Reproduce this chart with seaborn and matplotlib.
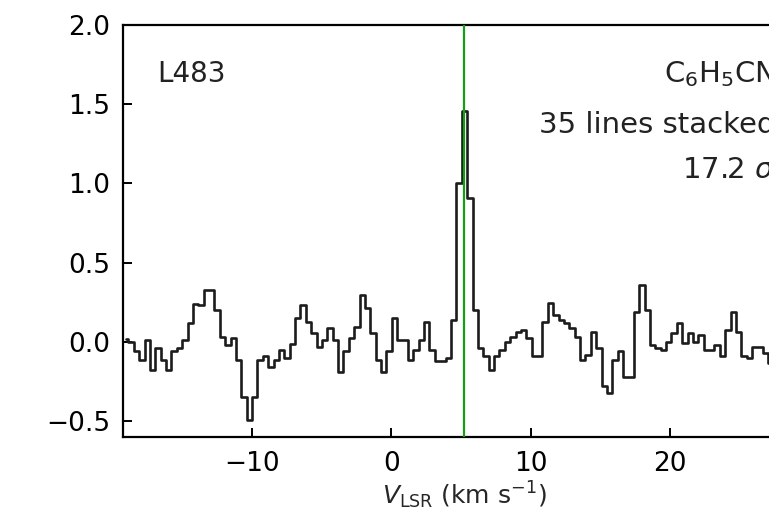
import numpy as np
import pandas as pd
import matplotlib
matplotlib.use("Agg")
import matplotlib.pyplot as plt
import seaborn as sns

# ---- data -------------------------------------------------------------
channel_width = 0.386      # km/s
first_channel = -19.07     # km/s, centre of first channel
intensity = [
    0.02, 0.0, -0.06, -0.115, 0.013, -0.18, -0.04, -0.115, -0.18, -0.06,
    -0.04, 0.013, 0.12, 0.24, 0.235, 0.33, 0.33, 0.2, 0.034, -0.02,
    0.023, -0.115, -0.345, -0.49, -0.345, -0.115, -0.09, -0.156, -0.115, -0.05,
    -0.1, -0.01, 0.15, 0.233, 0.128, 0.054, -0.03, 0.013, 0.086, 0.013,
    -0.187, -0.06, 0.023, 0.097, 0.296, 0.212, 0.054, -0.115, -0.187, -0.06,
    0.15, 0.013, 0.013, -0.115, -0.05, 0.013, 0.128, -0.05, -0.12, -0.12,
    -0.1, 0.139, 1.0, 1.46, 0.91, 0.2, -0.04, -0.09, -0.177, -0.09,
    -0.05, 0.002, 0.034, 0.065, 0.076, 0.023, -0.09, -0.09, 0.128, 0.244,
    0.17, 0.139, 0.118, 0.086, 0.034, -0.114, -0.082, 0.065, -0.04, -0.28,
    -0.32, -0.114, -0.06, -0.22, -0.22, 0.19, 0.36, 0.2, -0.02, -0.04,
    -0.05, 0.002, 0.055, 0.118, -0.009, 0.055, 0.002, 0.044, -0.05, -0.05,
    -0.02, -0.09, 0.076, 0.19, 0.065, -0.09, -0.1, -0.03, -0.03, -0.07,
    -0.13, -0.08, 0.02, -0.04, 0.05, -0.02, 0.01, -0.05,
]
v_lsr_source = 5.2
x_ticks = [-10, 0, 10, 20]
y_ticks = [-0.5, 0.0, 0.5, 1.0, 1.5, 2.0]
source_label = "L483"
annotation_lines = ["C$_6$H$_5$CN", "35 lines stacked", "17.2 $\\sigma$"]

velocity = first_channel + channel_width * np.arange(len(intensity))
df = pd.DataFrame({"v": velocity, "T": intensity})

# ---- plot -------------------------------------------------------------
sns.set_style("ticks")
plt.rcParams["font.family"] = ["DejaVu Sans"]
plt.rcParams["mathtext.fontset"] = "dejavusans"

fig = plt.figure(figsize=(7.69, 5.17), dpi=100)
ax = fig.add_axes([0.16, 0.1547, 0.8887, 0.797])

sns.lineplot(data=df, x="v", y="T", ax=ax, drawstyle="steps-mid",
             color="#1c1c1c", lw=1.9, estimator=None, sort=False)
ax.axvline(v_lsr_source, color="#14a014", lw=1.6, zorder=3)

ax.set_xlim(-19.26, 29.8)
ax.set_ylim(-0.6, 2.0)
ax.set_xticks(x_ticks)
ax.set_yticks(y_ticks)
ax.tick_params(direction="in", length=6.5, width=1.4, labelsize=19,
               top=False, right=False, colors="black")
ax.tick_params(axis="x", pad=10)
ax.tick_params(axis="y", pad=9)
for sp in ax.spines.values():
    sp.set_linewidth(1.6)
    sp.set_color("black")

ax.set_xlabel("$V_{\\rm LSR}$ (km s$^{-1}$)", fontsize=18, labelpad=2)
ax.set_ylabel("")

ax.text(0.05, 0.862, source_label, transform=ax.transAxes, fontsize=20,
        ha="left", va="baseline", color="#222222")
for txt, yy in zip(annotation_lines, [0.862, 0.738, 0.629]):
    ax.text(0.955, yy, txt, transform=ax.transAxes, fontsize=21,
            ha="right", va="baseline", color="#222222")

fig.savefig("out.png", dpi=100)
